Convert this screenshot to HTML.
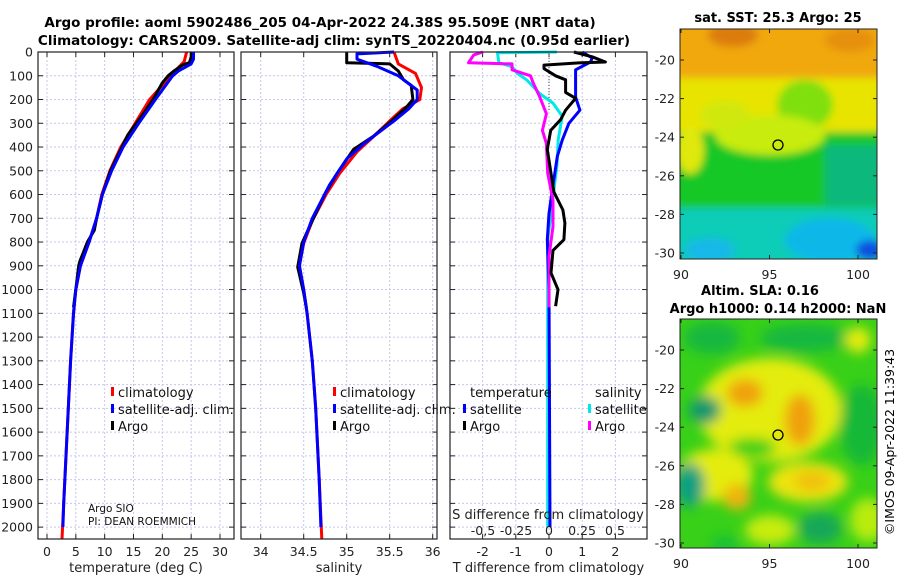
<!DOCTYPE html>
<html><head><meta charset="utf-8">
<style>
html,body{margin:0;padding:0;background:#fff;}
svg{display:block;font-family:"DejaVu Sans","Liberation Sans",sans-serif;}
</style></head>
<body>
<svg id="fig" width="900" height="580" viewBox="0 0 900 580" xmlns="http://www.w3.org/2000/svg">
<defs>
<filter id="blur1" x="-20%" y="-20%" width="140%" height="140%"><feGaussianBlur stdDeviation="4"/></filter>
<filter id="blur2" x="-20%" y="-20%" width="140%" height="140%"><feGaussianBlur stdDeviation="6"/></filter>
<clipPath id="clipM1"><rect x="680" y="29" width="197" height="230"/></clipPath>
<clipPath id="clipM2"><rect x="680" y="319" width="197" height="229"/></clipPath>
</defs>
<text x="320" y="27" text-anchor="middle" font-size="13.5" font-weight="bold">Argo profile: aoml 5902486_205 04-Apr-2022 24.38S 95.509E (NRT data)</text>
<text x="334" y="45" text-anchor="middle" font-size="13.5" font-weight="bold">Climatology: CARS2009. Satellite-adj clim: synTS_20220404.nc (0.95d earlier)</text>

<g>
 <g clip-path="url(#clipM1)">
  <rect x="680" y="29" width="197" height="230" fill="#10c070"/>
  <g filter="url(#blur1)">
   <rect x="660" y="10" width="240" height="70" fill="#f0a808"/>
   <ellipse cx="733" cy="35" rx="25" ry="12" fill="#dc7c08"/>
   <ellipse cx="850" cy="40" rx="25" ry="12" fill="#e69008"/>
   <rect x="660" y="78" width="240" height="55" fill="#e8e400"/>
   <ellipse cx="805" cy="105" rx="28" ry="25" fill="#80e010"/>
   <rect x="660" y="132" width="240" height="78" fill="#18c828"/>
   <ellipse cx="770" cy="135" rx="55" ry="20" fill="#c8ec10"/>
   <ellipse cx="690" cy="150" rx="14" ry="24" fill="#e0e810"/>
   <ellipse cx="725" cy="115" rx="25" ry="14" fill="#d0e810"/>
   <rect x="825" y="145" width="75" height="60" fill="#08b87c"/>
   <rect x="660" y="208" width="240" height="60" fill="#08ccb8"/>
   <ellipse cx="830" cy="240" rx="45" ry="22" fill="#10b8e8"/>
   <ellipse cx="710" cy="250" rx="25" ry="12" fill="#18b8e8"/>
   <ellipse cx="870" cy="250" rx="14" ry="10" fill="#0850e0"/>
  </g>
 </g>
 <rect x="680" y="29" width="197" height="230" fill="none" stroke="#222" stroke-width="1"/>
 <circle cx="778" cy="145" r="5" fill="none" stroke="#000" stroke-width="1.3"/>
 <text x="778" y="22" text-anchor="middle" font-size="13" font-weight="bold">sat. SST: 25.3 Argo: 25</text>
</g>

<g>
 <g clip-path="url(#clipM2)">
  <rect x="680" y="319" width="197" height="229" fill="#38d018"/>
  <g filter="url(#blur2)">
   <ellipse cx="712" cy="338" rx="28" ry="16" fill="#18b840"/>
   <ellipse cx="805" cy="338" rx="45" ry="14" fill="#18b840"/>
   <ellipse cx="770" cy="410" rx="72" ry="52" fill="#e4ec10"/>
   <ellipse cx="745" cy="393" rx="18" ry="14" fill="#f0a010"/>
   <ellipse cx="800" cy="420" rx="15" ry="26" fill="#f0a010"/>
   <ellipse cx="705" cy="410" rx="16" ry="14" fill="#109870"/>
   <ellipse cx="752" cy="448" rx="24" ry="10" fill="#38d018"/>
   <ellipse cx="715" cy="475" rx="38" ry="26" fill="#e4ec10"/>
   <ellipse cx="737" cy="497" rx="14" ry="13" fill="#f0b410"/>
   <ellipse cx="808" cy="482" rx="40" ry="20" fill="#ece410"/>
   <ellipse cx="812" cy="481" rx="18" ry="10" fill="#f0c010"/>
   <ellipse cx="690" cy="485" rx="15" ry="22" fill="#10a080"/>
   <ellipse cx="862" cy="425" rx="22" ry="40" fill="#18b838"/>
   <ellipse cx="858" cy="340" rx="13" ry="13" fill="#e4ec10"/>
   <ellipse cx="820" cy="528" rx="22" ry="16" fill="#18a858"/>
   <ellipse cx="725" cy="545" rx="14" ry="9" fill="#18c038"/>
   <ellipse cx="770" cy="530" rx="25" ry="15" fill="#c8ec10"/>
   <ellipse cx="868" cy="520" rx="18" ry="22" fill="#b8ec10"/>
  </g>
 </g>
 <rect x="680" y="319" width="197" height="229" fill="none" stroke="#222" stroke-width="1"/>
 <circle cx="778" cy="435" r="5" fill="none" stroke="#000" stroke-width="1.3"/>
 <text x="760" y="295" text-anchor="middle" font-size="13" font-weight="bold">Altim. SLA: 0.16</text>
 <text x="778" y="313" text-anchor="middle" font-size="13" font-weight="bold">Argo h1000: 0.14 h2000: NaN</text>
</g>
<text transform="translate(894,442) rotate(-90)" text-anchor="middle" font-size="12.5">©IMOS 09-Apr-2022 11:39:43</text>
</svg>
<script>
// ---- data: [depth, value] ----
var tempArgo = [[0,25],[20,25],[45,24.7],[55,23.5],[80,22],[100,21],[130,20],[200,18.4],[250,17],[300,15.5],[350,14],[400,13],[500,11],[600,9.6],[700,8.6],[750,8.2],[800,7],[850,6.2],[880,5.7],[900,5.5],[1000,5.0],[1075,4.6]];
var tempClim = [[0,24.2],[40,23.8],[60,23],[100,21.5],[200,17.8],[300,15.3],[400,12.8],[500,10.9],[600,9.5],[700,8.6],[800,7.3],[900,5.8],[1000,5.0],[1100,4.6],[1300,4.1],[1500,3.7],[1700,3.3],[1900,2.9],[2050,2.6]];
var tempSat = [[0,25.4],[30,25.4],[50,25],[80,22.8],[100,21.8],[200,18.8],[300,15.9],[400,13.2],[500,11.2],[600,9.6],[700,8.6],[800,7.3],[900,5.8],[1000,5.0],[1100,4.6],[1300,4.1],[1500,3.7],[1700,3.3],[1900,2.9],[2000,2.75]];
var salArgo = [[0,35.0],[45,35.0],[50,35.5],[80,35.6],[117,35.66],[140,35.75],[200,35.77],[230,35.7],[285,35.54],[355,35.31],[410,35.08],[510,34.89],[595,34.75],[710,34.6],[805,34.48],[905,34.43],[1015,34.5],[1075,34.53]];
var salClim = [[0,35.55],[50,35.6],[90,35.8],[150,35.87],[200,35.85],[240,35.65],[290,35.5],[360,35.3],[420,35.12],[510,34.92],[600,34.76],[710,34.6],[805,34.5],[900,34.45],[1000,34.5],[1100,34.54],[1300,34.6],[1500,34.64],[1800,34.68],[2050,34.71]];
var salSat = [[0,35.55],[8,35.12],[30,35.12],[60,35.35],[100,35.6],[160,35.82],[200,35.82],[240,35.72],[290,35.55],[380,35.22],[450,35.0],[560,34.8],[700,34.6],[800,34.5],[900,34.45],[1000,34.5],[1100,34.54],[1300,34.6],[1500,34.64],[1800,34.68],[2000,34.7]];
var tDiffArgo = [[0,0.75],[20,1.3],[42,1.7],[46,0.9],[55,-0.15],[70,-0.15],[100,0.2],[117,0.5],[170,0.5],[195,0.8],[245,0.5],[285,0.35],[330,0.05],[410,-0.05],[565,0.12],[590,0.15],[665,0.42],[720,0.48],[790,0.45],[835,0.12],[930,0.06],[1000,0.27],[1070,0.2]];
var tDiffSat = [[0,1.0],[25,1.3],[42,1.25],[75,0.8],[117,0.8],[190,0.8],[245,0.93],[300,0.6],[370,0.4],[440,0.25],[580,0.1],[680,0.0],[790,-0.05],[1000,0.0],[2000,0.03]];
var sDiffArgo = [[0,-0.5],[12,-0.57],[45,-0.61],[50,-0.28],[75,-0.28],[100,-0.14],[130,-0.12],[190,-0.07],[260,-0.02],[330,-0.05],[385,-0.02],[510,-0.01],[625,0.03],[735,0.03],[860,0.0],[1045,0.0],[1075,0.0]];
var sDiffSat = [[0,0.06],[3,-0.39],[45,-0.38],[62,-0.28],[90,-0.24],[117,-0.17],[175,-0.07],[215,0.03],[270,0.1],[370,0.07],[480,0.06],[610,0.03],[790,-0.01],[2000,-0.01]];
var depthTicks = [0,100,200,300,400,500,600,700,800,900,1000,1100,1200,1300,1400,1500,1600,1700,1800,1900,2000];
var tempTicks = [0,5,10,15,20,25,30];
var salTicks = [34,34.5,35,35.5,36];
var salTickLabels = ["34","34.5","35","35.5","36"];
var tDiffTicks = [-2,-1,0,1,2];
var sDiffTicks = [-0.5,-0.25,0,0.25,0.5];
var sDiffTickLabels = ["-0,5","-0.25","0","0.25","0.5"];
var latTicks = [-20,-22,-24,-26,-28,-30];
var lonTicks = [90,95,100];

var NS = "http://www.w3.org/2000/svg";
var svg = document.getElementById("fig");
function mk(tag, attrs, parent){ var e=document.createElementNS(NS,tag); for(var k in attrs) e.setAttribute(k,attrs[k]); (parent||svg).appendChild(e); return e; }

var TOP=52, BOT=539;
function yD(d){ return TOP + d*(BOT-TOP)/2050; }
function linX(x0,v0,x1,v1){ return function(v){ return x0+(v-v0)*(x1-x0)/(v1-v0); }; }

var panels = [
 {name:"temperature-panel", L:38, R:234, x: linX(47,0,220,30), ticks:tempTicks, labels:tempTicks.map(String), xlabel:"temperature (deg C)", ylabels:true},
 {name:"salinity-panel", L:241, R:437, x: linX(260.7,34,432.7,36), ticks:salTicks, labels:salTickLabels, xlabel:"salinity", ylabels:false},
 {name:"difference-panel", L:450, R:647, x: linX(549,0,615.4,2), ticks:tDiffTicks, labels:tDiffTicks.map(String), xlabel:"T difference from climatology", ylabels:false}
];
var sx = linX(549,0,615,0.5);

panels.forEach(function(p){
  var g = mk("g",{});
  
  
  depthTicks.forEach(function(d){
    var y=yD(d);
    mk("line",{x1:p.L,x2:p.R,y1:y,y2:y,stroke:"#c4c8ec","stroke-width":1,"stroke-dasharray":"2,2"},g);
    mk("line",{x1:p.L,x2:p.L+5,y1:y,y2:y,stroke:"#222"},g);
    mk("line",{x1:p.R,x2:p.R-5,y1:y,y2:y,stroke:"#222"},g);
    if(p.ylabels){
      var t=mk("text",{x:p.L-5,y:y+4.5,"text-anchor":"end","font-size":12.5,fill:"#222"},g);
      t.textContent=d;
      
      
    }
  });
  p.ticks.forEach(function(v,i){
    var x=p.x(v);
    mk("line",{x1:x,x2:x,y1:TOP,y2:BOT,stroke:"#c4c8ec","stroke-width":1,"stroke-dasharray":"2,2"},g);
    mk("line",{x1:x,x2:x,y1:BOT,y2:BOT-5,stroke:"#222"},g);
    mk("line",{x1:x,x2:x,y1:TOP,y2:TOP+5,stroke:"#222"},g);
    var t=mk("text",{x:x,y:556,"text-anchor":"middle","font-size":12.5,fill:"#222"},g);
    t.textContent=p.labels[i];
    
    
  });
  var xt=mk("text",{x:(p.L+p.R)/2,y:572,"text-anchor":"middle","font-size":13,fill:"#222"},g);
  xt.textContent=p.xlabel;
  
  
  p.g=g;
});

function drawLine(arr, xf, color, g, name){
  var d = arr.map(function(pt,i){ return (i?"L":"M")+xf(pt[1]).toFixed(1)+","+yD(pt[0]).toFixed(1); }).join(" ");
  var e = mk("path",{d:d,fill:"none",stroke:color,"stroke-width":3,"stroke-linejoin":"round"},g);
  
  
}
mk("line",{x1:549,x2:549,y1:TOP,y2:110,stroke:"#444","stroke-dasharray":"1,2"},panels[2].g);

drawLine(tempClim, panels[0].x, "#ff0000", panels[0].g, "temp-climatology-line");
drawLine(tempArgo, panels[0].x, "#000000", panels[0].g, "temp-argo-line");
drawLine(tempSat, panels[0].x, "#0000ff", panels[0].g, "temp-satellite-line");
drawLine(salClim, panels[1].x, "#ff0000", panels[1].g, "sal-climatology-line");
drawLine(salArgo, panels[1].x, "#000000", panels[1].g, "sal-argo-line");
drawLine(salSat, panels[1].x, "#0000ff", panels[1].g, "sal-satellite-line");
drawLine(sDiffSat, sx, "#00e8e8", panels[2].g, "sdiff-satellite-line");
drawLine(tDiffSat, panels[2].x, "#0000ff", panels[2].g, "tdiff-satellite-line");
drawLine(sDiffArgo, sx, "#ff00ff", panels[2].g, "sdiff-argo-line");
drawLine(tDiffArgo, panels[2].x, "#000000", panels[2].g, "tdiff-argo-line");

sDiffTicks.forEach(function(v,i){
  var t=mk("text",{x:sx(v),y:535,"text-anchor":"middle","font-size":12.5,fill:"#222"},panels[2].g);
  t.textContent=sDiffTickLabels[i];
  
  
});
var st=mk("text",{x:548,y:519,"text-anchor":"middle","font-size":13,fill:"#222"},panels[2].g);
st.textContent="S difference from climatology";



panels.forEach(function(p){
  mk("rect",{x:p.L,y:TOP,width:p.R-p.L,height:BOT-TOP,fill:"none",stroke:"#222","stroke-width":1.2},p.g);
});

function legendEntry(g, x, y, color, label){
  var lg=mk("g",{},g);
  
  
  mk("rect",{x:x-7,y:y-10,width:3,height:9,fill:color},lg);
  var t=mk("text",{x:x,y:y,"font-size":13,fill:"#111"},lg);
  t.textContent=label;
}
[[0,118],[1,340]].forEach(function(a){
  var g=panels[a[0]].g;
  legendEntry(g,a[1],397,"#ff0000","climatology");
  legendEntry(g,a[1],414,"#0000ff","satellite-adj. clim.");
  legendEntry(g,a[1],431,"#000000","Argo");
});
var g3=panels[2].g;
var th=mk("text",{x:470,y:397,"font-size":13,fill:"#111"},g3); th.textContent="temperature";


var sh=mk("text",{x:595,y:397,"font-size":13,fill:"#111"},g3); sh.textContent="salinity";


legendEntry(g3,470,414,"#0000ff","satellite");
legendEntry(g3,470,431,"#000000","Argo");
legendEntry(g3,595,414,"#00e8e8","satellite");
legendEntry(g3,595,431,"#ff00ff","Argo");

var a1=mk("text",{x:88,y:512,"font-size":10.5,fill:"#111"}); a1.textContent="Argo SIO";


var a2=mk("text",{x:88,y:525,"font-size":10.5,fill:"#111"}); a2.textContent="PI: DEAN ROEMMICH";



function mapAxes(L,R,T,B,lat20y,lat30y,lonLabelY){
  var lon = linX(681,90,858,100);
  var lat = linX(lat20y,-20,lat30y,-30);
  latTicks.forEach(function(v){
    var y=lat(v);
    mk("line",{x1:L,x2:L+4,y1:y,y2:y,stroke:"#222"});
    mk("line",{x1:R,x2:R-4,y1:y,y2:y,stroke:"#222"});
    var t=mk("text",{x:L-5,y:y+4.5,"text-anchor":"end","font-size":12.5,fill:"#222"});
    t.textContent=v;
    
    
  });
  lonTicks.forEach(function(v){
    var x=lon(v);
    mk("line",{x1:x,x2:x,y1:B,y2:B-4,stroke:"#222"});
    mk("line",{x1:x,x2:x,y1:T,y2:T+4,stroke:"#222"});
    var t=mk("text",{x:x,y:lonLabelY,"text-anchor":"middle","font-size":12.5,fill:"#222"});
    t.textContent=v;
    
    
  });
}
mapAxes(680,877,29,259,60,253,279);
mapAxes(680,877,319,548,350,543,568);
</script>
</body></html>
